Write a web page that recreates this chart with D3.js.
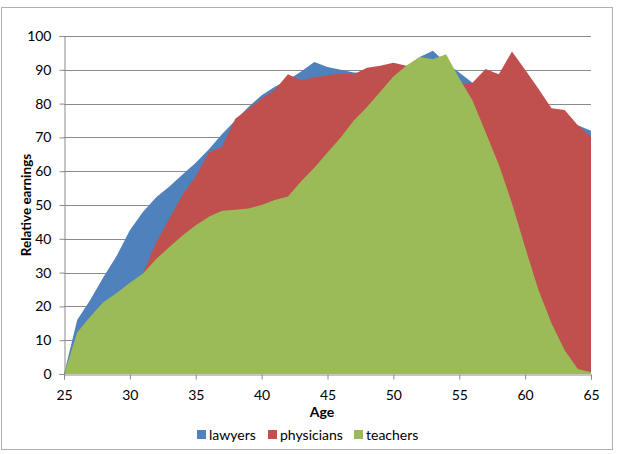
<!DOCTYPE html>
<html>
<head>
<meta charset="utf-8">
<script src="https://cdn.jsdelivr.net/npm/d3@7"></script>
<style>
  html, body { margin: 0; padding: 0; background: #fff; }
  svg text { font-family: "Lato", "Liberation Sans", sans-serif; fill: #000; }
</style>
</head>
<body>
<svg id="chart" width="617" height="454"></svg>
<script>
const ages = d3.range(25, 66);
const lawyers = [0, 16, 22, 28.7, 35, 42.5, 48, 52.3, 55.5, 59, 62.5, 66.5, 71, 75, 79, 82.5, 85, 87, 89.5, 92.3, 90.8, 90, 89.2, 89, 90, 91.5, 91, 93.8, 95.6, 92, 89.2, 86.2, 85, 86, 88, 85, 82, 78, 76, 73.6, 72];
const physicians = [0, 8, 13, 17, 21, 24, 29.7, 39, 46, 53, 58.5, 65.5, 67.2, 75.5, 78.5, 81.5, 84, 88.7, 86.9, 87.8, 88.4, 88.9, 88.7, 90.6, 91.2, 92.1, 91.2, 90, 89, 87.5, 86, 86.2, 90.2, 88.7, 95.4, 90, 84.5, 78.6, 78.1, 73.6, 70.2];
const teachers = [0, 12.3, 17, 21.3, 24, 27, 29.7, 34, 37.6, 41, 44, 46.5, 48.3, 48.6, 49, 50, 51.5, 52.5, 57, 61, 65.5, 70, 75, 79, 83.5, 88, 91.3, 93.8, 93.1, 94.6, 87.5, 81, 71.5, 62, 50.5, 37.5, 25, 15, 7, 1.5, 0.5];
const seriesNames = ["lawyers", "physicians", "teachers"];
const seriesColors = ["#4F81BD", "#C0504D", "#9BBB59"];
const xTicks = [25, 30, 35, 40, 45, 50, 55, 60, 65];
const yTicks = [0, 10, 20, 30, 40, 50, 60, 70, 80, 90, 100];

const svg = d3.select("#chart");
const mLeft = 64, mRight = 591, mTop = 36, mBottom = 374;

// outer border
svg.append("rect").attr("x", 1.5).attr("y", 7.5).attr("width", 611).attr("height", 442)
  .attr("fill", "none").attr("stroke", "#b0b0b0").attr("stroke-width", 1);

const x = d3.scaleLinear().domain([25, 65]).range([mLeft, mRight]);
const y = d3.scaleLinear().domain([0, 100]).range([mBottom, mTop]);

// gridlines
svg.append("g").selectAll("line").data(yTicks.filter(d => d > 0)).join("line")
  .attr("x1", mLeft).attr("x2", mRight)
  .attr("y1", d => Math.round(y(d)) + 0.5).attr("y2", d => Math.round(y(d)) + 0.5)
  .attr("stroke", "#8a8a8a").attr("stroke-width", 1);

// areas
const data = [lawyers, physicians, teachers];
const area = d3.area().x((d, i) => x(ages[i])).y0(y(0)).y1(d => y(d));
svg.append("g").selectAll("path").data(data).join("path")
  .attr("d", d => area(d))
  .attr("fill", (d, i) => seriesColors[i]);

// axes
const yAxis = svg.append("g").attr("transform", `translate(${mLeft + 0.5},0)`)
  .call(d3.axisLeft(y).tickValues(yTicks).tickSize(5).tickPadding(8).tickFormat(d3.format("d")));
const xAxis = svg.append("g").attr("transform", `translate(0,${mBottom + 0.5})`)
  .call(d3.axisBottom(x).tickValues(xTicks).tickSize(5).tickPadding(11).tickFormat(d3.format("d")));
[yAxis, xAxis].forEach(g => {
  g.select(".domain").attr("stroke", "#8a8a8a");
  g.selectAll(".tick line").attr("stroke", "#8a8a8a");
  g.selectAll(".tick text").attr("font-size", 14).attr("font-family", "Lato, 'Liberation Sans', sans-serif").attr("fill", "#000");
});

// axis titles
svg.append("text").attr("x", 322).attr("y", 417).attr("text-anchor", "middle")
  .attr("font-size", 14).attr("font-weight", "bold").text("Age");
svg.append("text").attr("transform", "translate(31,205) rotate(-90)").attr("text-anchor", "middle")
  .attr("font-size", 13.5).attr("font-weight", "bold").text("Relative earnings");

// legend
const legendX = [197, 268, 354];
const lg = svg.append("g").selectAll("g").data(seriesNames).join("g")
  .attr("transform", (d, i) => `translate(${legendX[i]},430)`);
lg.append("rect").attr("width", 9).attr("height", 9).attr("fill", (d, i) => seriesColors[i]);
lg.append("text").attr("x", 12).attr("y", 10).attr("font-size", 14).text(d => d);
</script>
</body>
</html>
